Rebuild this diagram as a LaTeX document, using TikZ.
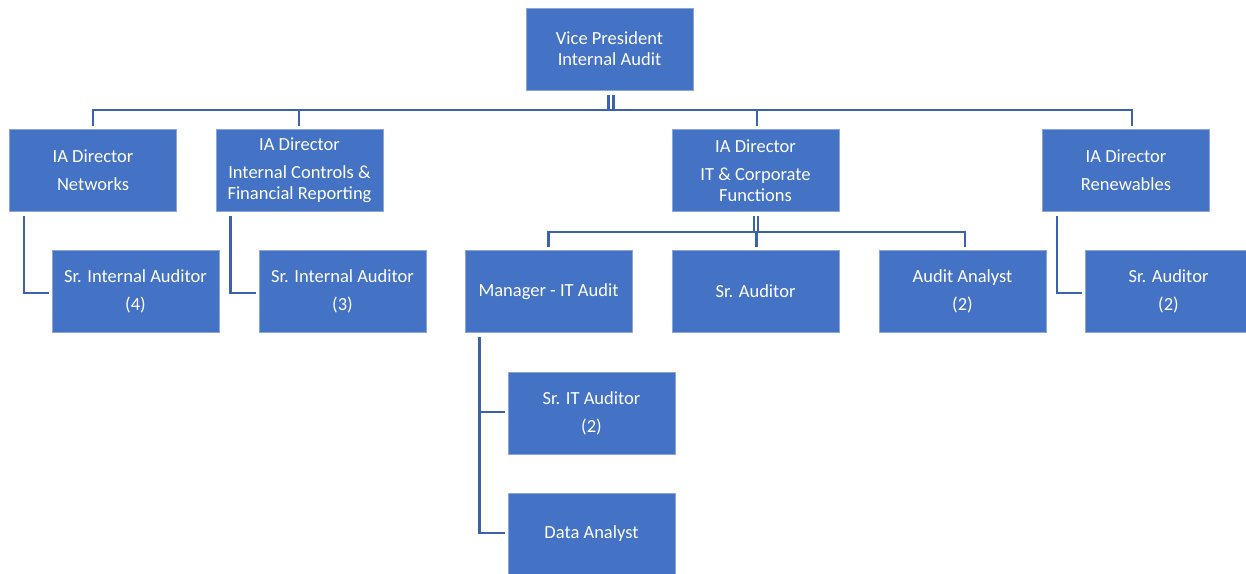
\documentclass[tikz,border=0pt]{standalone}
\usepackage{fontspec}
\setmainfont{Carlito}
\definecolor{boxfill}{HTML}{4472C4}
\definecolor{boxedge}{HTML}{8AA5D8}
\definecolor{linkblue}{HTML}{3B62AC}
\begin{document}
\begin{tikzpicture}[x=1pt,y=-1pt,
  role/.style={rectangle, fill=boxfill, draw=boxedge, line width=0.6pt,
    minimum width=167pt, minimum height=82pt, inner sep=0pt,
    text=white, align=center, font=\fontsize{18.5}{21}\selectfont},
  conn/.style={draw=linkblue, line width=2.5pt, line cap=butt, line join=miter}]
\useasboundingbox (0,0) rectangle (1246,573);
\clip (0,0) rectangle (1246,573);

% top level
\node[role] (vp) at (609.5,49) {Vice President\\Internal Audit};

% directors
\node[role] (d1) at (93,170.5)   {IA Director\\[7pt]Networks};
\node[role] (d2) at (299.5,170.5) {IA Director\\[7pt]Internal Controls \&\\Financial Reporting};
\node[role] (d3) at (755.5,170.5) {IA Director\\[7pt]IT \& Corporate\\Functions};
\node[role] (d4) at (1126,170.5)  {IA Director\\[7pt]Renewables};

% staff level
\node[role] (s1) at (135.5,291.5) {Sr. Internal Auditor\\[7pt](4)};
\node[role] (s2) at (342.5,291.5) {Sr. Internal Auditor\\[7pt](3)};
\node[role] (mg) at (548.5,291.5) {Manager - IT Audit};
\node[role] (sa) at (755.5,291.5) {Sr. Auditor};
\node[role] (aa) at (962.5,291.5) {Audit Analyst\\[7pt](2)};
\node[role] (s4) at (1168.5,291.5) {Sr. Auditor\\[7pt](2)};

% IT audit team
\node[role] (it1) at (591.5,413) {Sr. IT Auditor\\[7pt](2)};
\node[role] (it2) at (591.5,534) {Data Analyst};

% bus from the vice president to the directors
\coordinate (bus) at (0,110);
\draw[conn] ([xshift=-1pt,yshift=-5pt]vp.south) -- ([xshift=-1pt]vp.south |- bus);
\draw[conn] ([xshift=4pt,yshift=-5pt]vp.south) -- ([xshift=4pt]vp.south |- bus);
\draw[conn] ([yshift=3pt]d1.north) -- (d1.north |- bus) -- ([xshift=6pt]d4.north |- bus) -- ([xshift=6pt,yshift=3pt]d4.north);
\draw[conn] ([xshift=-0.5pt,yshift=3pt]d2.north) -- ([xshift=-0.5pt]d2.north |- bus);
\draw[conn] ([xshift=1.5pt,yshift=3pt]d3.north) -- ([xshift=1.5pt]d3.north |- bus);

% side links from directors to their auditors
\coordinate (n1) at ([xshift=15pt,yshift=-4pt]d1.south west);
\draw[conn] (n1) -- ([yshift=-1.5pt]n1 |- s1.west) -- ([xshift=-3pt,yshift=-1.5pt]s1.west);
\coordinate (n2) at ([xshift=15pt,yshift=-4pt]d2.south west);
\draw[conn] (n2) -- ([yshift=-1.5pt]n2 |- s2.west) -- ([xshift=-3pt,yshift=-1.5pt]s2.west);
\coordinate (n4) at ([xshift=15pt,yshift=-4pt]d4.south west);
\draw[conn] (n4) -- ([yshift=-1.5pt]n4 |- s4.west) -- ([xshift=-3pt,yshift=-1.5pt]s4.west);

% bus below the IT & corporate director
\coordinate (itbus) at (0,232);
\draw[conn] ([xshift=-1.5pt,yshift=-4pt]d3.south) -- ([xshift=-1.5pt]d3.south |- itbus);
\draw[conn] ([xshift=2.5pt,yshift=-4pt]d3.south) -- ([xshift=2.5pt]d3.south |- itbus);
\draw[conn] ([yshift=3pt]mg.north) -- (mg.north |- itbus) -- ([xshift=2.5pt]aa.north |- itbus) -- ([xshift=2.5pt,yshift=3pt]aa.north);
\draw[conn] ([xshift=1pt,yshift=3pt]sa.north) -- ([xshift=1pt]sa.north |- itbus);

% links from the IT audit manager
\coordinate (n5) at ([xshift=15pt,yshift=-4pt]mg.south west);
\draw[conn] (n5) -- ([yshift=1pt]n5 |- it2.west) -- ([xshift=-3pt,yshift=1pt]it2.west);
\draw[conn] ([yshift=1pt]n5 |- it1.west) -- ([xshift=-3pt,yshift=1pt]it1.west);
\end{tikzpicture}
\end{document}
